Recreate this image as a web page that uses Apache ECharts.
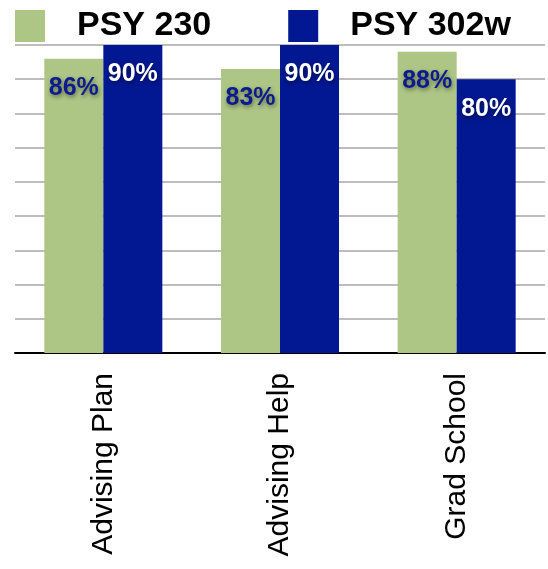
<!DOCTYPE html>
<html>
<head>
<meta charset="utf-8">
<script src="https://cdn.jsdelivr.net/npm/echarts@6/dist/echarts.min.js"></script>
<style>
html,body{margin:0;padding:0;background:#fff;}
#main{width:548px;height:569px;}
</style>
</head>
<body>
<div id="main"></div>
<script>
var categories = ['Advising Plan', 'Advising Help', 'Grad School'];
var psy230 = [86, 83, 88];
var psy302w = [90, 90, 80];
var seriesNames = ['PSY 230', 'PSY 302w'];

var chart = echarts.init(document.getElementById('main'));
var shadow = {textShadowColor: 'rgba(0,0,0,0.45)', textShadowBlur: 4, textShadowOffsetX: 1, textShadowOffsetY: 2};
chart.setOption({
  animation: false,
  backgroundColor: '#fff',
  legend: {
    left: 15, top: 9, padding: 0,
    itemWidth: 30, itemHeight: 32, itemGap: 77,
    icon: 'rect',
    textStyle: {fontFamily: 'Liberation Sans', fontWeight: 'bold', fontSize: 34, color: '#000', padding: [0, 0, 0, 27]},
    data: seriesNames
  },
  grid: {left: 15, right: 3, top: 45, bottom: 216, containLabel: false},
  xAxis: {
    type: 'category', data: categories,
    axisLine: {lineStyle: {color: '#000', width: 2}},
    axisTick: {show: false},
    axisLabel: {rotate: 90, margin: 20, fontFamily: 'Liberation Sans', fontSize: 30, color: '#000'}
  },
  yAxis: {
    type: 'value', min: 0, max: 90, interval: 10,
    axisLine: {show: false}, axisTick: {show: false}, axisLabel: {show: false},
    splitLine: {lineStyle: {color: '#bdbdbd', width: 2}}
  },
  series: [
    {
      name: seriesNames[0], type: 'bar', data: psy230, barWidth: 59, barGap: '0%',
      itemStyle: {color: '#adc585'},
      label: Object.assign({show: true, position: 'insideTop', distance: 17, formatter: '{c}%',
        fontFamily: 'Liberation Sans', fontWeight: 'bold', fontSize: 25, color: '#0b1b8f'}, shadow)
    },
    {
      name: seriesNames[1], type: 'bar', data: psy302w, barWidth: 59, barGap: '0%',
      itemStyle: {color: '#021892'},
      label: Object.assign({show: true, position: 'insideTop', distance: 17, formatter: '{c}%',
        fontFamily: 'Liberation Sans', fontWeight: 'bold', fontSize: 25, color: '#fff'}, shadow)
    }
  ]
});
</script>
</body>
</html>
